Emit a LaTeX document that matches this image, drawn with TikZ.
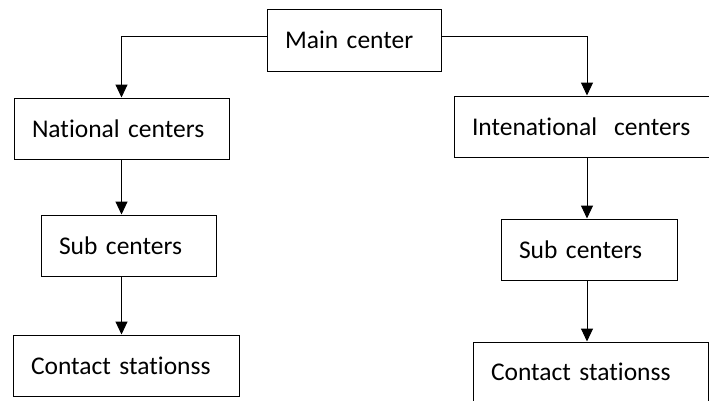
\documentclass[tikz,border=0pt]{standalone}
\usepackage{fontspec}
\setmainfont[Ligatures=NoCommon]{Carlito}
\usetikzlibrary{arrows.meta}
\begin{document}
\begin{tikzpicture}[x=1pt,y=-1pt,
  box/.style={draw, line width=1pt, align=left, inner xsep=18pt, inner ysep=0pt,
    font=\fontsize{25.5}{30}\selectfont},
  arr/.style={line width=1pt, -{Triangle[length=13pt,width=12pt]}}]
\useasboundingbox (0,0) rectangle (709,400);
\clip (0,0) rectangle (709,400);
\node[box, text width=138pt, minimum height=62pt] (main) at (354,40) {Main center};
\node[box, text width=179pt, minimum height=61pt] (nat) at (121.5,128.5) {National centers};
\node[box, text width=230pt, minimum height=61pt] (intl) at (587,126.5) {Intenational\ \ centers};
\node[box, text width=139pt, minimum height=61pt] (lsub) at (128.5,245.5) {Sub centers};
\node[box, text width=140pt, minimum height=61pt] (rsub) at (589,249.5) {Sub centers};
\node[box, text width=190pt, minimum height=61pt] (lcon) at (126,365.5) {Contact stationss};
\node[box, text width=199pt, minimum height=60pt] (rcon) at (590.5,372) {Contact stationss};
\draw[arr] ([yshift=4pt]main.west) -| (nat.north);
\draw[arr] ([yshift=4pt]main.east) -| (intl.north);
\draw[arr] (nat.south) -- (nat.south |- lsub.north);
\draw[arr] (lsub.south -| nat.south) -- (nat.south |- lcon.north);
\draw[arr] (intl.south) -- (intl.south |- rsub.north);
\draw[arr] (rsub.south -| intl.south) -- (intl.south |- rcon.north);
\end{tikzpicture}
\end{document}
